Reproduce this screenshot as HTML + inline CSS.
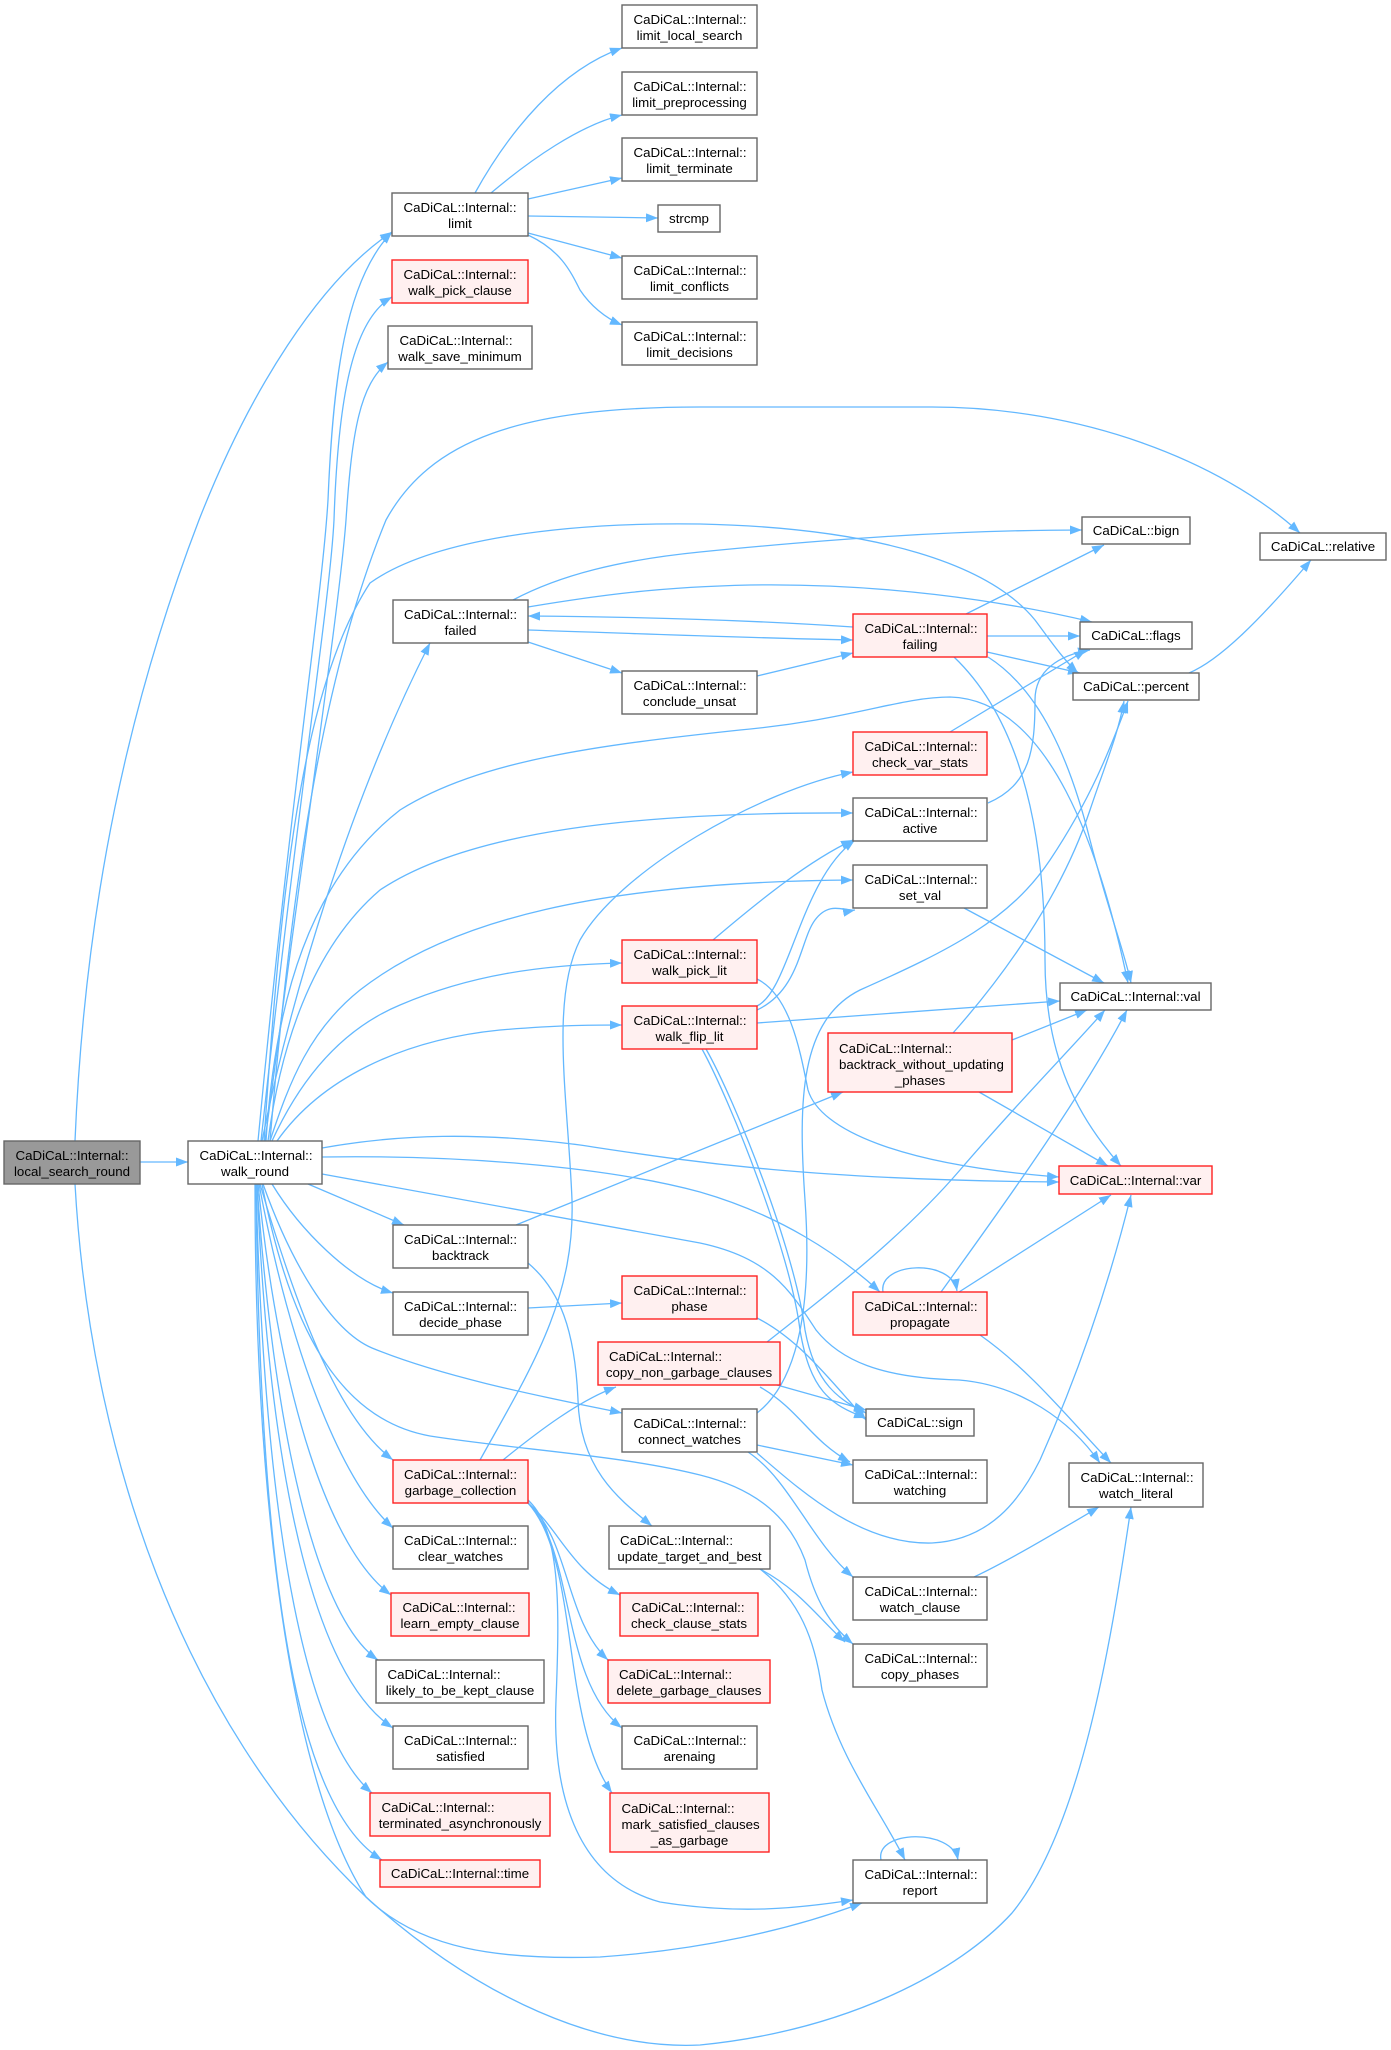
<!DOCTYPE html>
<html><head><meta charset="utf-8"><style>
html,body{margin:0;padding:0;background:#fff;}
body{width:1391px;height:2050px;overflow:hidden;}
svg{display:block;}
text{font-family:"Liberation Sans",Arial,Helvetica,sans-serif;font-size:13.3px;fill:#000;}
.e{fill:none;stroke:#63b8ff;stroke-width:1.3;marker-end:url(#a);}
.n{fill:#fff;stroke:#666;stroke-width:1.4;}
.r{fill:#fff0f0;stroke:#f22;stroke-width:1.4;}
.g{fill:#999;stroke:#666;stroke-width:1.4;}
.c{text-anchor:middle;}
</style></head><body>
<svg width="1391" height="2050" viewBox="0 0 1391 2050" xmlns="http://www.w3.org/2000/svg">
<defs><marker id="a" viewBox="0 0 12 9" refX="12" refY="4.5" markerWidth="12" markerHeight="9" markerUnits="userSpaceOnUse" orient="auto"><path d="M0,0L12,4.5L0,9z" fill="#63b8ff"/></marker></defs>
<g>
<path class="e" d="M140,1162 L188,1162"/>
<path class="e" d="M75,1141 C85,900 130,700 199,520 C250,390 320,280 392,232"/>
<path class="e" d="M258,1141 C290,800 322,600 328,500 C333,380 345,280 392,232"/>
<path class="e" d="M261,1141 C298,800 330,600 334,520 C338,400 352,320 392,297"/>
<path class="e" d="M265,1141 C310,800 340,600 346,520 C352,430 360,385 388,362"/>
<path class="e" d="M270,1141 C290,900 320,680 386,520 C430,440 520,407 700,407 L932,407 C1080,407 1220,460 1300,533"/>
<path class="e" d="M264,1141 C280,900 300,690 370,583 C430,540 560,522 700,524 C880,528 990,565 1035,620 C1050,640 1062,658 1078,673"/>
<path class="e" d="M513,600 C560,575 620,560 700,552 C820,540 950,530 1082,530"/>
<path class="e" d="M528,607 C600,595 660,587 750,585 C880,583 1000,600 1092,622"/>
<path class="e" d="M853,627 C750,620 650,617 528,616"/>
<path class="e" d="M528,630 C650,634 750,638 853,640"/>
<path class="e" d="M528,642 L622,673"/>
<path class="e" d="M757,676 L853,653"/>
<path class="e" d="M966,614 L1104,545"/>
<path class="e" d="M987,636 L1080,636"/>
<path class="e" d="M987,652 L1080,673"/>
<path class="e" d="M954,657 C1020,720 1045,830 1045,960 C1045,1060 1080,1120 1121,1166"/>
<path class="e" d="M988,657 C1040,690 1070,760 1090,840 C1108,910 1124,950 1131,983"/>
<path class="e" d="M266,1141 C275,1000 310,880 400,810 C480,760 600,745 740,730 C850,720 900,697 950,697 C1050,700 1100,850 1128,983"/>
<path class="e" d="M480,1460 C530,1370 575,1300 572,1200 C568,1100 550,1000 580,940 C620,870 760,790 853,772"/>
<path class="e" d="M950,732 L1086,650"/>
<path class="e" d="M988,803 C1030,785 1035,750 1035,700 C1035,670 1060,655 1090,650"/>
<path class="e" d="M268,1141 C280,1050 310,950 380,890 C470,830 640,812 853,813"/>
<path class="e" d="M270,1141 C290,1080 310,1030 360,990 C450,920 600,882 853,880"/>
<path class="e" d="M272,1141 C300,1080 340,1030 400,1005 C470,975 540,965 622,963"/>
<path class="e" d="M277,1141 C320,1080 400,1040 500,1030 C560,1025 590,1025 622,1025"/>
<path class="e" d="M262,1141 C290,1000 350,800 430,643"/>
<path class="e" d="M322,1148 C400,1134 480,1132 580,1145 C680,1160 800,1180 1059,1182"/>
<path class="e" d="M757,979 C790,995 800,1050 808,1090 C820,1130 900,1165 1059,1177"/>
<path class="e" d="M322,1157 C450,1155 600,1165 700,1192 C780,1215 840,1255 880,1292"/>
<path class="e" d="M322,1174 L700,1243 C770,1258 790,1290 816,1330 C840,1360 880,1378 959,1380 C1020,1385 1070,1420 1100,1463"/>
<path class="e" d="M308,1184 L404,1225"/>
<path class="e" d="M272,1184 C300,1230 350,1280 393,1293"/>
<path class="e" d="M263,1184 C290,1260 330,1330 372,1348 C450,1380 560,1400 622,1413"/>
<path class="e" d="M262,1184 C290,1330 340,1420 430,1436 C520,1450 620,1455 700,1475 C760,1490 790,1520 805,1560 C815,1600 830,1625 853,1644"/>
<path class="e" d="M260,1184 C300,1320 340,1420 393,1460"/>
<path class="e" d="M259,1184 C290,1350 340,1480 393,1528"/>
<path class="e" d="M258,1184 C280,1400 330,1550 391,1595"/>
<path class="e" d="M257,1184 C275,1450 320,1620 378,1660"/>
<path class="e" d="M257,1184 C270,1500 320,1680 393,1728"/>
<path class="e" d="M256,1184 C265,1550 310,1740 372,1793"/>
<path class="e" d="M256,1184 C260,1600 300,1810 382,1860"/>
<path class="e" d="M255,1184 C255,1500 290,1780 366,1897 C420,1950 500,1960 600,1957 C700,1950 790,1930 862,1903"/>
<path class="e" d="M75,1184 C90,1450 180,1720 366,1897 C480,2000 600,2050 700,2045 C850,2030 960,1970 1012,1913 C1080,1830 1110,1650 1131,1507"/>
<path class="e" d="M528,1500 C560,1530 560,1600 556,1700 C552,1800 580,1880 660,1902 C740,1915 800,1908 853,1900"/>
<path class="e" d="M503,1460 C540,1430 580,1400 616,1387"/>
<path class="e" d="M528,1503 C560,1530 570,1570 620,1595"/>
<path class="e" d="M528,1503 C570,1540 565,1620 608,1660"/>
<path class="e" d="M528,1503 C575,1550 560,1680 622,1728"/>
<path class="e" d="M528,1503 C580,1560 560,1720 612,1793"/>
<path class="e" d="M516,1225 L843,1092"/>
<path class="e" d="M528,1263 C560,1290 575,1330 578,1400 C580,1470 620,1500 652,1526"/>
<path class="e" d="M528,1308 L622,1303"/>
<path class="e" d="M757,1318 C800,1340 830,1380 866,1420"/>
<path class="e" d="M777,1385 L866,1410"/>
<path class="e" d="M760,1387 C800,1410 810,1440 850,1462"/>
<path class="e" d="M767,1342 C820,1300 900,1240 960,1170 C1020,1100 1070,1050 1105,1010"/>
<path class="e" d="M941,1292 C1000,1210 1080,1100 1127,1010"/>
<path class="e" d="M959,1292 L1111,1195"/>
<path class="e" d="M883,1292 C878,1262 952,1258 957,1291"/>
<path class="e" d="M980,1335 C1030,1370 1070,1420 1111,1463"/>
<path class="e" d="M757,1453 C800,1490 860,1545 932,1543 C990,1540 1020,1500 1040,1460 C1080,1370 1110,1280 1131,1195"/>
<path class="e" d="M757,1445 L853,1465"/>
<path class="e" d="M748,1452 C790,1480 810,1540 853,1577"/>
<path class="e" d="M757,1413 C800,1380 812,1300 805,1200 C798,1100 800,1020 860,990 C950,950 1010,920 1050,860 C1090,800 1110,750 1128,701"/>
<path class="e" d="M953,1033 C1000,980 1060,900 1090,810 C1105,765 1118,735 1124,701"/>
<path class="e" d="M1012,1040 L1087,1010"/>
<path class="e" d="M979,1092 L1108,1166"/>
<path class="e" d="M964,908 L1104,983"/>
<path class="e" d="M757,1023 L1060,1001"/>
<path class="e" d="M757,1006 C790,990 800,880 855,840"/>
<path class="e" d="M757,1010 C800,990 800,940 815,920 C830,900 845,912 855,910"/>
<path class="e" d="M713,940 C760,900 810,860 853,840"/>
<path class="e" d="M702,1049 C730,1100 790,1250 800,1330 C810,1390 830,1405 866,1418"/>
<path class="e" d="M706,1049 C735,1100 795,1250 805,1330 C815,1385 840,1400 866,1413"/>
<path class="e" d="M974,1577 C1010,1560 1060,1530 1099,1507"/>
<path class="e" d="M760,1569 C800,1590 820,1620 845,1642"/>
<path class="e" d="M760,1569 C800,1600 815,1640 822,1690 C840,1760 880,1810 905,1860"/>
<path class="e" d="M881,1860 C875,1830 952,1828 958,1860"/>
<path class="e" d="M1189,673 C1220,660 1260,620 1311,560"/>
<path class="e" d="M475,193 C510,130 560,70 622,48"/>
<path class="e" d="M491,193 C530,160 580,125 622,115"/>
<path class="e" d="M528,199 L622,178"/>
<path class="e" d="M528,216 L658,218"/>
<path class="e" d="M528,233 L622,258"/>
<path class="e" d="M528,235 C560,250 570,270 580,290 C590,305 605,318 622,325"/>
</g>
<g>
<rect class="g" x="4" y="1141" width="136" height="43"/><text x="15.5" y="1160">CaDiCaL::Internal::</text><text class="c" x="72" y="1176">local_search_round</text>
<rect class="n" x="188" y="1141" width="134" height="43"/><text x="199.5" y="1160">CaDiCaL::Internal::</text><text class="c" x="255" y="1176">walk_round</text>
<rect class="n" x="392" y="193" width="136" height="43"/><text x="403.5" y="212">CaDiCaL::Internal::</text><text class="c" x="460" y="228">limit</text>
<rect class="r" x="392" y="260" width="136" height="43"/><text x="403.5" y="279">CaDiCaL::Internal::</text><text class="c" x="460" y="295">walk_pick_clause</text>
<rect class="n" x="388" y="326" width="144" height="43"/><text x="399.5" y="345">CaDiCaL::Internal::</text><text class="c" x="460" y="361">walk_save_minimum</text>
<rect class="n" x="393" y="600" width="135" height="43"/><text x="404" y="619">CaDiCaL::Internal::</text><text class="c" x="460.5" y="635">failed</text>
<rect class="n" x="393" y="1225" width="135" height="43"/><text x="404" y="1244">CaDiCaL::Internal::</text><text class="c" x="460.5" y="1260">backtrack</text>
<rect class="n" x="393" y="1292" width="135" height="43"/><text x="404" y="1311">CaDiCaL::Internal::</text><text class="c" x="460.5" y="1327">decide_phase</text>
<rect class="r" x="393" y="1460" width="135" height="43"/><text x="404" y="1479">CaDiCaL::Internal::</text><text class="c" x="460.5" y="1495">garbage_collection</text>
<rect class="n" x="393" y="1526" width="135" height="43"/><text x="404" y="1545">CaDiCaL::Internal::</text><text class="c" x="460.5" y="1561">clear_watches</text>
<rect class="r" x="391" y="1593" width="138" height="43"/><text x="402.5" y="1612">CaDiCaL::Internal::</text><text class="c" x="460" y="1628">learn_empty_clause</text>
<rect class="n" x="376" y="1660" width="168" height="43"/><text x="387.5" y="1679">CaDiCaL::Internal::</text><text class="c" x="460" y="1695">likely_to_be_kept_clause</text>
<rect class="n" x="393" y="1726" width="135" height="43"/><text x="404" y="1745">CaDiCaL::Internal::</text><text class="c" x="460.5" y="1761">satisfied</text>
<rect class="r" x="370" y="1793" width="180" height="43"/><text x="381.5" y="1812">CaDiCaL::Internal::</text><text class="c" x="460" y="1828">terminated_asynchronously</text>
<rect class="r" x="380" y="1860" width="160" height="27"/><text class="c" x="460" y="1878">CaDiCaL::Internal::time</text>
<rect class="n" x="622" y="5" width="135" height="43"/><text x="633.5" y="24">CaDiCaL::Internal::</text><text class="c" x="689.5" y="40">limit_local_search</text>
<rect class="n" x="622" y="72" width="135" height="43"/><text x="633.5" y="91">CaDiCaL::Internal::</text><text class="c" x="689.5" y="107">limit_preprocessing</text>
<rect class="n" x="622" y="138" width="135" height="43"/><text x="633.5" y="157">CaDiCaL::Internal::</text><text class="c" x="689.5" y="173">limit_terminate</text>
<rect class="n" x="658" y="205" width="62" height="27"/><text class="c" x="689" y="223">strcmp</text>
<rect class="n" x="622" y="256" width="135" height="43"/><text x="633.5" y="275">CaDiCaL::Internal::</text><text class="c" x="689.5" y="291">limit_conflicts</text>
<rect class="n" x="622" y="322" width="135" height="43"/><text x="633.5" y="341">CaDiCaL::Internal::</text><text class="c" x="689.5" y="357">limit_decisions</text>
<rect class="n" x="622" y="671" width="135" height="43"/><text x="633.5" y="690">CaDiCaL::Internal::</text><text class="c" x="689.5" y="706">conclude_unsat</text>
<rect class="r" x="622" y="940" width="135" height="43"/><text x="633.5" y="959">CaDiCaL::Internal::</text><text class="c" x="689.5" y="975">walk_pick_lit</text>
<rect class="r" x="622" y="1006" width="135" height="43"/><text x="633.5" y="1025">CaDiCaL::Internal::</text><text class="c" x="689.5" y="1041">walk_flip_lit</text>
<rect class="r" x="622" y="1276" width="135" height="43"/><text x="633.5" y="1295">CaDiCaL::Internal::</text><text class="c" x="689.5" y="1311">phase</text>
<rect class="r" x="598" y="1342" width="182" height="43"/><text x="609" y="1361">CaDiCaL::Internal::</text><text class="c" x="689" y="1377">copy_non_garbage_clauses</text>
<rect class="n" x="622" y="1409" width="135" height="43"/><text x="633.5" y="1428">CaDiCaL::Internal::</text><text class="c" x="689.5" y="1444">connect_watches</text>
<rect class="n" x="609" y="1526" width="161" height="43"/><text x="620" y="1545">CaDiCaL::Internal::</text><text class="c" x="689.5" y="1561">update_target_and_best</text>
<rect class="r" x="620" y="1593" width="138" height="43"/><text x="631.5" y="1612">CaDiCaL::Internal::</text><text class="c" x="689" y="1628">check_clause_stats</text>
<rect class="r" x="608" y="1660" width="162" height="43"/><text x="619" y="1679">CaDiCaL::Internal::</text><text class="c" x="689" y="1695">delete_garbage_clauses</text>
<rect class="n" x="622" y="1726" width="135" height="43"/><text x="633.5" y="1745">CaDiCaL::Internal::</text><text class="c" x="689.5" y="1761">arenaing</text>
<rect class="r" x="610" y="1793" width="159" height="59"/><text x="621.5" y="1813">CaDiCaL::Internal::</text><text x="621.5" y="1829">mark_satisfied_clauses</text><text class="c" x="689.5" y="1845">_as_garbage</text>
<rect class="r" x="853" y="614" width="134" height="43"/><text x="864.5" y="633">CaDiCaL::Internal::</text><text class="c" x="920" y="649">failing</text>
<rect class="r" x="853" y="732" width="134" height="43"/><text x="864.5" y="751">CaDiCaL::Internal::</text><text class="c" x="920" y="767">check_var_stats</text>
<rect class="n" x="853" y="798" width="134" height="43"/><text x="864.5" y="817">CaDiCaL::Internal::</text><text class="c" x="920" y="833">active</text>
<rect class="n" x="853" y="865" width="134" height="43"/><text x="864.5" y="884">CaDiCaL::Internal::</text><text class="c" x="920" y="900">set_val</text>
<rect class="r" x="828" y="1033" width="184" height="59"/><text x="839" y="1053">CaDiCaL::Internal::</text><text x="839" y="1069">backtrack_without_updating</text><text class="c" x="920" y="1085">_phases</text>
<rect class="r" x="853" y="1292" width="134" height="43"/><text x="864.5" y="1311">CaDiCaL::Internal::</text><text class="c" x="920" y="1327">propagate</text>
<rect class="n" x="866" y="1409" width="108" height="27"/><text class="c" x="920" y="1427">CaDiCaL::sign</text>
<rect class="n" x="853" y="1460" width="134" height="43"/><text x="864.5" y="1479">CaDiCaL::Internal::</text><text class="c" x="920" y="1495">watching</text>
<rect class="n" x="853" y="1577" width="134" height="43"/><text x="864.5" y="1596">CaDiCaL::Internal::</text><text class="c" x="920" y="1612">watch_clause</text>
<rect class="n" x="853" y="1644" width="134" height="43"/><text x="864.5" y="1663">CaDiCaL::Internal::</text><text class="c" x="920" y="1679">copy_phases</text>
<rect class="n" x="853" y="1860" width="134" height="43"/><text x="864.5" y="1879">CaDiCaL::Internal::</text><text class="c" x="920" y="1895">report</text>
<rect class="n" x="1082" y="517" width="108" height="27"/><text class="c" x="1136" y="535">CaDiCaL::bign</text>
<rect class="n" x="1080" y="622" width="112" height="27"/><text class="c" x="1136" y="640">CaDiCaL::flags</text>
<rect class="n" x="1073" y="673" width="126" height="27"/><text class="c" x="1136" y="691">CaDiCaL::percent</text>
<rect class="n" x="1060" y="983" width="151" height="27"/><text class="c" x="1135.5" y="1001">CaDiCaL::Internal::val</text>
<rect class="r" x="1059" y="1166" width="153" height="28"/><text class="c" x="1135.5" y="1185">CaDiCaL::Internal::var</text>
<rect class="n" x="1069" y="1463" width="134" height="44"/><text x="1080.5" y="1482">CaDiCaL::Internal::</text><text class="c" x="1136" y="1498">watch_literal</text>
<rect class="n" x="1260" y="533" width="126" height="27"/><text class="c" x="1323" y="551">CaDiCaL::relative</text>
</g>
</svg>
</body></html>
